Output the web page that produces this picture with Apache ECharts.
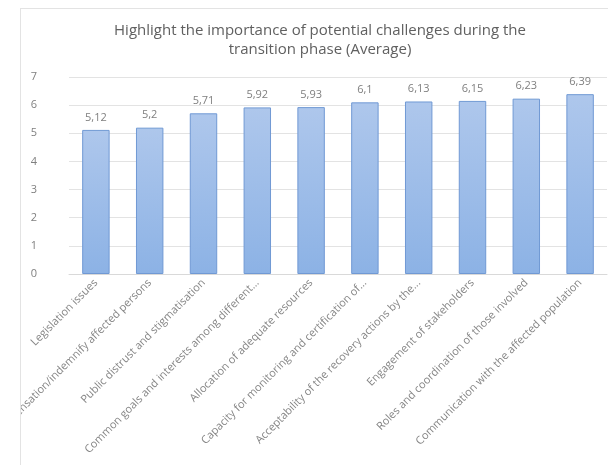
<!DOCTYPE html>
<html>
<head>
<meta charset="utf-8">
<script src="https://cdn.jsdelivr.net/npm/echarts@6/dist/echarts.min.js"></script>
<style>
html,body{margin:0;padding:0;background:#fff;width:608px;height:465px;overflow:hidden;}
#frame{position:absolute;left:20px;top:8px;width:587px;height:456px;border-left:1px solid #e3e3e3;border-top:1px solid #e3e3e3;overflow:hidden;}
#chart{width:587px;height:456px;}
</style>
</head>
<body>
<div id="frame"><div id="chart"></div></div>
<script>
const categories = [
  "Legislation issues",
  "Compensation/indemnify affected persons",
  "Public distrust and stigmatisation",
  "Common goals and interests among different...",
  "Allocation of adequate resources",
  "Capacity for monitoring and certification of...",
  "Acceptability of the recovery actions by the...",
  "Engagement of stakeholders",
  "Roles and coordination of those involved",
  "Communication with the affected population"
];
const averages = [5.12, 5.2, 5.71, 5.92, 5.93, 6.1, 6.13, 6.15, 6.23, 6.39];
const titleText = "Highlight the importance of potential challenges during the\ntransition phase (Average)";

const FONT = "'Open Sans', 'Noto Sans', sans-serif";
const chart = echarts.init(document.getElementById('chart'), null, {renderer: 'canvas'});
chart.setOption({
  animation: false,
  backgroundColor: '#fff',
  textStyle: {fontFamily: FONT},
  title: {
    text: titleText,
    left: 294,
    textAlign: 'center',
    top: 7,
    textStyle: {fontFamily: FONT, fontSize: 15, fontWeight: 'normal', color: '#606060', lineHeight: 19}
  },
  grid: {left: 48, right: 1, top: 68, bottom: 191, containLabel: false, outerBoundsMode: 'none'},
  xAxis: {
    type: 'category',
    data: categories,
    axisLine: {show: true, lineStyle: {color: '#d9d9d9'}},
    axisTick: {show: false},
    axisLabel: {rotate: 45, interval: 0, fontSize: 11, color: '#858585', margin: 7, fontFamily: FONT}
  },
  yAxis: {
    type: 'value',
    min: 0, max: 7, interval: 1,
    axisLine: {show: false},
    axisTick: {show: false},
    splitLine: {lineStyle: {color: '#e3e3e3'}},
    axisLabel: {fontSize: 11, color: '#7f7f7f', margin: 32, fontFamily: FONT}
  },
  series: [{
    type: 'bar',
    data: averages,
    barWidth: '51%',
    itemStyle: {
      color: new echarts.graphic.LinearGradient(0, 0, 0, 1, [
        {offset: 0, color: '#aec7ec'},
        {offset: 1, color: '#8cb2e5'}
      ]),
      borderColor: '#7099d4',
      borderWidth: 1
    },
    label: {
      show: true,
      position: 'top',
      distance: 7,
      fontSize: 11,
      color: '#7f7f7f',
      fontFamily: FONT,
      formatter: p => String(p.value).replace('.', ',')
    }
  }]
});
</script>
</body>
</html>
